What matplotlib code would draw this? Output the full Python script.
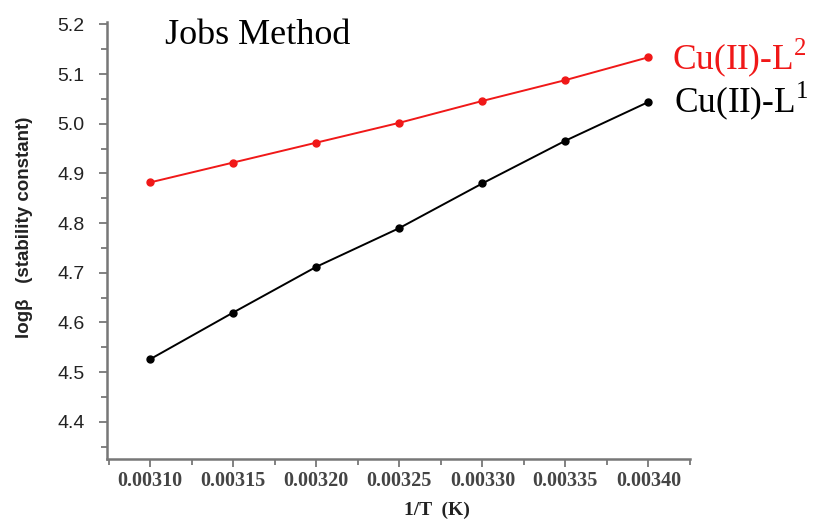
import matplotlib
matplotlib.use("Agg")
import matplotlib.pyplot as plt
from matplotlib.ticker import MultipleLocator, FormatStrFormatter

# 1/T values (K^-1) and log beta for the two complexes
inv_T = [0.00310, 0.00315, 0.00320, 0.00325, 0.00330, 0.00335, 0.00340]
logb_L2 = [4.882, 4.922, 4.962, 5.002, 5.046, 5.088, 5.134]
logb_L1 = [4.526, 4.620, 4.712, 4.790, 4.880, 4.966, 5.044]

x_ticks = [0.00310, 0.00315, 0.00320, 0.00325, 0.00330, 0.00335, 0.00340]
x_ticklabels = ["0.00310", "0.00315", "0.00320", "0.00325", "0.00330", "0.00335", "0.00340"]

plt.rcParams["mathtext.fontset"] = "custom"
plt.rcParams["mathtext.rm"] = "Liberation Serif"

fig = plt.figure(figsize=(8.16, 5.19), dpi=100)
ax = fig.add_axes([107 / 816, 60 / 519, 583 / 816, 437 / 519])

ax.plot(inv_T, logb_L2, color="#f01818", lw=1.4, marker="o", ms=5)
ax.plot(inv_T, logb_L1, color="black", lw=1.4, marker="o", ms=5)

ax.set_xlim(0.003074, 0.003425)
ax.set_ylim(4.325, 5.205)

ax.set_xticks(x_ticks)
ax.set_xticklabels(x_ticklabels)
ax.xaxis.set_minor_locator(MultipleLocator(0.000025))
ax.yaxis.set_major_locator(MultipleLocator(0.1))
ax.yaxis.set_minor_locator(MultipleLocator(0.05))
ax.yaxis.set_major_formatter(FormatStrFormatter("%.1f"))

for side in ("top", "right"):
    ax.spines[side].set_visible(False)
for side in ("left", "bottom"):
    ax.spines[side].set_color("#777777")
    ax.spines[side].set_linewidth(1.8)

ax.tick_params(which="major", direction="out", length=6, width=1.3, color="#777777")
ax.tick_params(which="minor", direction="out", length=4, width=1.3, color="#777777")
ax.tick_params(axis="y", labelsize=14, pad=10, labelcolor="#222222")
ax.tick_params(axis="x", labelsize=14.5, pad=3, labelcolor="#444444")
for lbl in ax.get_xticklabels():
    lbl.set_family("Liberation Serif")
    lbl.set_fontweight("bold")
for lbl in ax.get_yticklabels():
    lbl.set_family("Liberation Sans")

ax.set_ylabel("log\u03b2   (stability constant)", fontsize=13.5, fontweight="bold",
              family="Liberation Sans", color="#222222")
ax.yaxis.set_label_coords(-0.127, 0.53)
ax.set_xlabel("1/T  (K)", fontsize=14, fontweight="bold", family="Liberation Serif",
              color="#222222")
ax.xaxis.set_label_coords(0.566, -0.098)

fig.text(165 / 816, 1 - 36 / 519, "Jobs Method", fontsize=26, family="Liberation Serif",
         va="center", ha="left")
fig.text(672 / 816, 1 - 58 / 519, "Cu(II)-L$^2$", fontsize=25.5, family="Liberation Serif",
         color="#f01818", va="center", ha="left")
fig.text(674 / 816, 1 - 101 / 519, "Cu(II)-L$^1$", fontsize=25.5, family="Liberation Serif",
         color="black", va="center", ha="left")

fig.savefig("out.png", dpi=100)
